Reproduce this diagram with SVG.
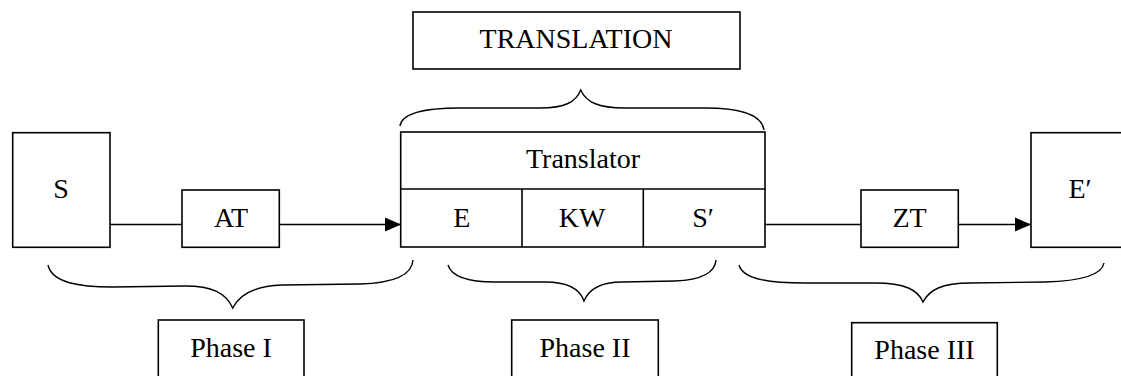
<svg xmlns="http://www.w3.org/2000/svg" width="1121" height="376" viewBox="0 0 1121 376">
  <defs>
    <style>
      .box { fill: #fff; stroke: #000; stroke-width: 1.6; }
      .ln { fill: none; stroke: #000; stroke-width: 1.6; }
      .brace { fill: none; stroke: #000; stroke-width: 1.4; }
      .t { font-family: "Liberation Serif", "Times New Roman", serif; font-size: 28px; fill: #000; text-anchor: middle; }
    </style>
    <marker id="arr" markerUnits="userSpaceOnUse" markerWidth="16" markerHeight="16" viewBox="0 0 16 14" refX="16" refY="7" orient="auto">
      <path d="M0,0 L16,7 L0,14 Z" fill="#000"/>
    </marker>
  </defs>
  <rect width="1121" height="376" fill="#fff"/>

  <g id="connectors">
    <line class="ln" x1="110" y1="224.5" x2="182" y2="224.5"/>
    <line class="ln" x1="279" y1="224.5" x2="401" y2="224.5" marker-end="url(#arr)"/>
    <line class="ln" x1="765" y1="224.5" x2="861" y2="224.5"/>
    <line class="ln" x1="958" y1="224.5" x2="1031" y2="224.5" marker-end="url(#arr)"/>
  </g>

  <g id="braces">
    <path class="brace" d="M400,126 C402,112 428,108 460,108 L540,108 C565,108 576,102 580.7,90 C586,102 598,108 625,108 L705,108 C740,108 762,115 764,130"/>
    <path class="brace" d="M48,265 C52,283 80,287 112,287 L185,286 C212,286 226,293 232.7,308 C240,293 256,286 282,285 L360,284 C395,283 412,275 413,260"/>
    <path class="brace" d="M448,265 C452,278 470,282 495,282 L545,282 C568,282 580,289 584,301 C589,289 600,282 622,282 L675,281 C700,280 715,273 716,260"/>
    <path class="brace" d="M739,265 C743,280 772,283 805,283 L875,283 C905,283 918,290 923,302 C929,290 942,283 970,283 L1045,282 C1080,281 1102,275 1104,263"/>
  </g>

  <g id="translation">
    <rect class="box" x="413" y="12" width="327" height="57"/>
    <text class="t" x="576" y="48">TRANSLATION</text>
  </g>

  <g id="node-s">
    <rect class="box" x="12.7" y="132.7" width="97.3" height="114.6"/>
    <text class="t" x="61" y="198">S</text>
  </g>

  <g id="node-at">
    <rect class="box" x="182" y="190" width="97.3" height="57.3"/>
    <text class="t" x="231" y="226.7">AT</text>
  </g>

  <g id="node-translator">
    <rect class="box" x="400.7" y="132" width="364.3" height="115"/>
    <line class="ln" x1="400.7" y1="189" x2="765" y2="189"/>
    <line class="ln" x1="522" y1="189" x2="522" y2="247"/>
    <line class="ln" x1="643.3" y1="189" x2="643.3" y2="247"/>
    <text class="t" x="583" y="168.3">Translator</text>
    <text class="t" x="461.7" y="226.7">E</text>
    <text class="t" x="582" y="226.7">KW</text>
    <text class="t" x="703" y="226.7">S′</text>
  </g>

  <g id="node-zt">
    <rect class="box" x="861" y="190" width="97.3" height="57.3"/>
    <text class="t" x="909.5" y="226.7">ZT</text>
  </g>

  <g id="node-e2">
    <rect class="box" x="1031" y="132.7" width="100" height="114.6"/>
    <text class="t" x="1080" y="198">E′</text>
  </g>

  <g id="phase1">
    <rect class="box" x="158.3" y="320" width="145.7" height="70"/>
    <text class="t" x="231" y="357">Phase I</text>
  </g>

  <g id="phase2">
    <rect class="box" x="511.7" y="320" width="146.6" height="70"/>
    <text class="t" x="585" y="357">Phase II</text>
  </g>

  <g id="phase3">
    <rect class="box" x="851.7" y="322.7" width="145.6" height="70"/>
    <text class="t" x="924.5" y="359.3">Phase III</text>
  </g>
</svg>
